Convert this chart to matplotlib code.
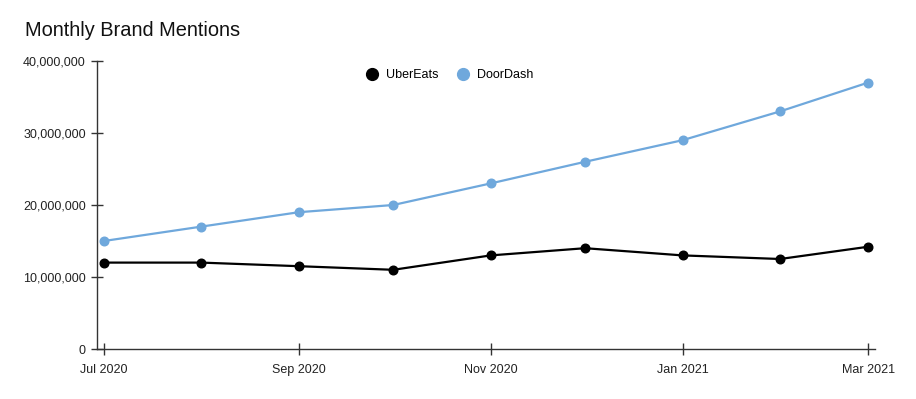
import numpy as np
import pandas as pd
import matplotlib
matplotlib.use("Agg")
import matplotlib.pyplot as plt
import matplotlib.dates as mdates
from matplotlib.ticker import FuncFormatter
from matplotlib.lines import Line2D

plt.rcParams['font.family'] = ['Liberation Sans', 'DejaVu Sans']

# data
months = pd.date_range("2020-07-01", "2021-03-01", freq="MS")
uber_eats = [12000000, 12000000, 11500000, 11000000, 13000000,
             14000000, 13000000, 12500000, 14200000]
door_dash = [15000000, 17000000, 19000000, 20000000, 23000000,
             26000000, 29000000, 33000000, 37000000]

fig = plt.figure(figsize=(9.16, 3.99), dpi=100)
ax = fig.add_axes([97 / 916, 50 / 399, 778 / 916, 288 / 399])

blue = "#6fa8dc"
ax.plot(months, door_dash, color=blue, lw=1.6, marker="o", ms=6.2, zorder=3)
ax.plot(months, uber_eats, color="black", lw=1.6, marker="o", ms=6.2, zorder=4)

pad = pd.Timedelta(days=2.2)
ax.set_xlim(months[0] - pad, months[-1] + pad)
ax.set_ylim(0, 40000000)

ax.set_yticks([0, 10000000, 20000000, 30000000, 40000000])
ax.yaxis.set_major_formatter(FuncFormatter(lambda v, p: f"{int(v):,}"))
ax.set_xticks(months[::2])
ax.xaxis.set_major_formatter(mdates.DateFormatter("%b %Y"))

for s in ["top", "right"]:
    ax.spines[s].set_visible(False)
for s in ["left", "bottom"]:
    ax.spines[s].set_color("#333333")
    ax.spines[s].set_linewidth(1)

ax.tick_params(axis="both", direction="inout", length=8, width=1,
               color="#333333", labelsize=9, labelcolor="#222222")
ax.tick_params(axis="y", pad=4)
ax.tick_params(axis="x", pad=7)

fig.text(25 / 916, 1 - 30 / 399, "Monthly Brand Mentions", fontsize=14.4,
         va="center", ha="left", color="#111111")

handles = [
    Line2D([], [], ls="none", marker="o", ms=8.5, color="black"),
    Line2D([], [], ls="none", marker="o", ms=8.5, color=blue),
]
fig.legend(handles, ["UberEats", "DoorDash"], loc="center",
           bbox_to_anchor=(450 / 916, 1 - 75 / 399), ncol=2, frameon=False,
           fontsize=9, handlelength=0.8, handletextpad=0.7, columnspacing=1.6)

fig.savefig("out.png", dpi=100)
